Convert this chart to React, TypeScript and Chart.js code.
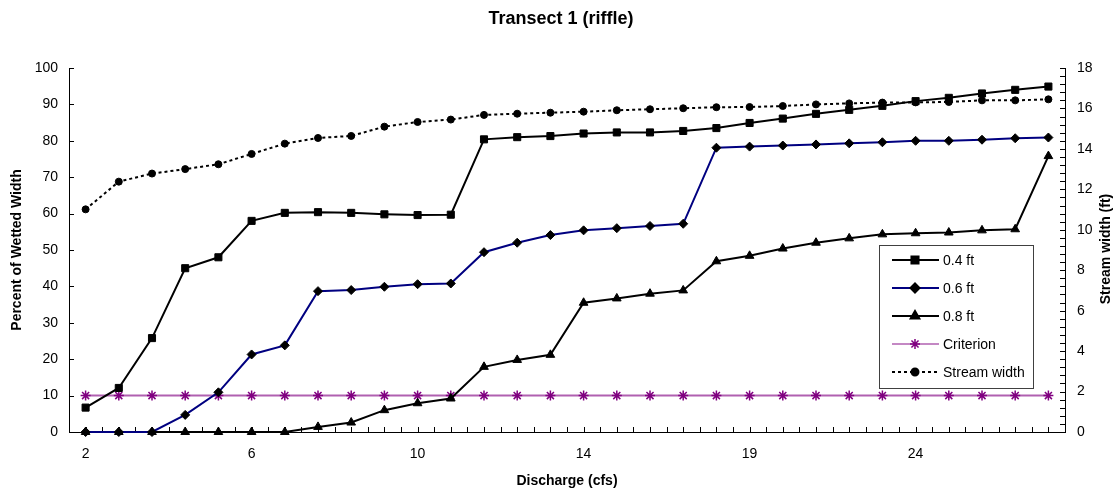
import React, { useEffect, useRef } from "react";
import { Chart, registerables } from "chart.js";
import { drawPoint } from "chart.js/helpers";

Chart.register(...registerables);

const FONT = 'Arial, "Liberation Sans", sans-serif';

const categories = ["2", "2.8", "3.6", "4.4", "5.2", "6", "6.8", "7.6", "8.4", "9.2", "10", "10.8", "11.6", "12.4", "13.2", "14", "15", "16", "17", "18", "19", "20", "21", "22", "23", "24", "25", "26", "27", "28"];

const pct04 = [6.7, 12.1, 25.8, 45, 48, 58, 60.2, 60.4, 60.2, 59.8, 59.6, 59.7, 80.4, 81, 81.3, 82, 82.3, 82.3, 82.7, 83.5, 84.9, 86.1, 87.4, 88.5, 89.6, 90.9, 91.8, 93, 94, 94.9];
const pct06 = [0, 0, 0, 4.7, 10.9, 21.3, 23.8, 38.7, 39, 39.9, 40.6, 40.8, 49.4, 52, 54.1, 55.4, 56, 56.6, 57.2, 78.1, 78.4, 78.7, 79, 79.3, 79.6, 80, 80, 80.3, 80.7, 80.9];
const pct08 = [0, 0, 0, 0, 0, 0, 0, 1.4, 2.6, 6, 7.9, 9.2, 17.9, 19.8, 21.2, 35.5, 36.7, 38, 38.9, 46.9, 48.4, 50.4, 52, 53.2, 54.3, 54.6, 54.8, 55.4, 55.7, 75.8];
const criterion = [10, 10, 10, 10, 10, 10, 10, 10, 10, 10, 10, 10, 10, 10, 10, 10, 10, 10, 10, 10, 10, 10, 10, 10, 10, 10, 10, 10, 10, 10];
const streamWidth = [11.01, 12.38, 12.78, 13.0, 13.24, 13.75, 14.26, 14.54, 14.64, 15.1, 15.33, 15.45, 15.68, 15.74, 15.79, 15.84, 15.91, 15.96, 16.01, 16.06, 16.07, 16.12, 16.2, 16.25, 16.29, 16.3, 16.32, 16.4, 16.4, 16.45];

const leftTicks = [0, 10, 20, 30, 40, 50, 60, 70, 80, 90, 100];
const seriesNames = ["0.4 ft", "0.6 ft", "0.8 ft", "Criterion", "Stream width"];

const decor = {
  id: "decor",
  beforeDatasetsDraw(chart: any) {
    const ctx = chart.ctx;
    const { left, right, bottom } = chart.chartArea;
    const xs = chart.scales.x;
    const ys = chart.scales.y;
    const y2 = chart.scales.y2;
    ctx.save();
    ctx.strokeStyle = "#000";
    ctx.lineWidth = 1;
    ctx.beginPath();
    const n = categories.length;
    const w = (xs.right - xs.left) / n;
    for (let j = 0; j <= 2 * n; j++) {
      const x = Math.round(xs.left + (j * w) / 2) + 0.5;
      ctx.moveTo(x, bottom);
      ctx.lineTo(x, bottom - 5);
    }
    leftTicks.forEach((v) => {
      const y = Math.round(ys.getPixelForValue(v)) + 0.5;
      ctx.moveTo(left, y);
      ctx.lineTo(left + 5, y);
    });
    for (let k = 0; k <= 45; k++) {
      const y = Math.round(y2.getPixelForValue(k * 0.4)) + 0.5;
      ctx.moveTo(right - 5, y);
      ctx.lineTo(right, y);
    }
    ctx.stroke();
    ctx.restore();
  },
  afterDraw(chart: any) {
    const ctx = chart.ctx;
    ctx.save();
    ctx.fillStyle = "#000";
    ctx.textAlign = "center";
    ctx.textBaseline = "middle";
    ctx.font = `bold 18px ${FONT}`;
    ctx.fillText("Transect 1 (riffle)", 561, 19);
    ctx.font = `bold 14px ${FONT}`;
    ctx.fillText("Discharge (cfs)", 567, 481);
    ctx.save();
    ctx.translate(17, 250);
    ctx.rotate(-Math.PI / 2);
    ctx.fillText("Percent of Wetted Width", 0, 0);
    ctx.restore();
    ctx.save();
    ctx.translate(1106, 249);
    ctx.rotate(-Math.PI / 2);
    ctx.fillText("Stream width (ft)", 0, 0);
    ctx.restore();

    // legend
    const bx = 879, by = 245, bw = 154, bh = 143;
    ctx.fillStyle = "#fff";
    ctx.fillRect(bx, by, bw, bh);
    ctx.strokeStyle = "#404040";
    ctx.lineWidth = 1;
    ctx.strokeRect(bx + 0.5, by + 0.5, bw, bh);
    const rows = [260, 288, 316, 344, 372];
    chart.data.datasets.forEach((ds: any, i: number) => {
      const y = rows[i];
      ctx.save();
      ctx.strokeStyle = ds.borderColor;
      ctx.lineWidth = i === 3 ? 1.5 : ds.borderWidth;
      ctx.setLineDash(ds.borderDash || []);
      ctx.beginPath();
      ctx.moveTo(892, y);
      ctx.lineTo(939, y);
      ctx.stroke();
      ctx.setLineDash([]);
      ctx.fillStyle = ds.pointBackgroundColor;
      ctx.strokeStyle = ds.pointBorderColor;
      drawPoint(ctx, { pointStyle: ds.pointStyle, radius: ds.pointRadius, rotation: 0, borderWidth: ds.pointBorderWidth }, 915, y);
      ctx.restore();
      ctx.fillStyle = "#000";
      ctx.textAlign = "left";
      ctx.textBaseline = "middle";
      ctx.font = `14px ${FONT}`;
      ctx.fillText(seriesNames[i], 943, y + 1);
    });
    ctx.restore();
  },
};

export default function App() {
  const ref = useRef<HTMLCanvasElement>(null);
  useEffect(() => {
    document.body.style.margin = "0";
    const tickFont = { family: FONT, size: 14 };
    const chart = new Chart(ref.current as HTMLCanvasElement, {
      type: "line",
      data: {
        labels: categories,
        datasets: [
          {
            label: seriesNames[0],
            data: pct04,
            yAxisID: "y",
            borderColor: "#000",
            borderWidth: 2,
            pointStyle: "rect",
            pointRadius: 5,
            pointBackgroundColor: "#000",
            pointBorderColor: "#000",
            pointBorderWidth: 1,
            clip: false,
          },
          {
            label: seriesNames[1],
            data: pct06,
            yAxisID: "y",
            borderColor: "#000080",
            borderWidth: 2,
            pointStyle: "rectRot",
            pointRadius: 4.5,
            pointBackgroundColor: "#000",
            pointBorderColor: "#000",
            pointBorderWidth: 1,
            clip: false,
          },
          {
            label: seriesNames[2],
            data: pct08,
            yAxisID: "y",
            borderColor: "#000",
            borderWidth: 2,
            pointStyle: "triangle",
            pointRadius: 5,
            pointBackgroundColor: "#000",
            pointBorderColor: "#000",
            pointBorderWidth: 1,
            clip: false,
          },
          {
            label: seriesNames[3],
            data: criterion,
            yAxisID: "y",
            borderColor: "#b060b0",
            borderWidth: 2,
            pointStyle: "star",
            pointRadius: 5,
            pointBackgroundColor: "#800080",
            pointBorderColor: "#800080",
            pointBorderWidth: 1.5,
            clip: false,
          },
          {
            label: seriesNames[4],
            data: streamWidth,
            yAxisID: "y2",
            borderColor: "#000",
            borderWidth: 2,
            borderDash: [3, 3],
            pointStyle: "circle",
            pointRadius: 3.5,
            pointBackgroundColor: "#000",
            pointBorderColor: "#000",
            pointBorderWidth: 1,
            clip: false,
          },
        ],
      },
      options: {
        responsive: false,
        animation: false,
        layout: { padding: { top: 68, left: 0, right: 0, bottom: 0 } },
        plugins: {
          legend: { display: false },
          title: { display: false },
          tooltip: { enabled: false },
        },
        elements: { line: { tension: 0 } },
        scales: {
          x: {
            type: "category",
            offset: true,
            grid: { display: false, drawTicks: false },
            border: { display: true, color: "#000", width: 1 },
            ticks: {
              autoSkip: false,
              maxRotation: 0,
              minRotation: 0,
              padding: 14,
              color: "#000",
              font: tickFont,
              callback: (_v: any, i: number) => (i % 5 === 0 ? categories[i] : ""),
            },
            afterFit: (s: any) => {
              s.height = 61;
            },
          },
          y: {
            position: "left",
            min: 0,
            max: 100,
            grid: { display: false, drawTicks: false },
            border: { display: true, color: "#000", width: 1 },
            ticks: { stepSize: 10, padding: 11, color: "#000", font: tickFont },
            afterFit: (s: any) => {
              s.width = 69;
            },
          },
          y2: {
            position: "right",
            min: 0,
            max: 18,
            grid: { display: false, drawTicks: false },
            border: { display: true, color: "#000", width: 1 },
            ticks: { stepSize: 2, padding: 12, color: "#000", font: tickFont },
            afterFit: (s: any) => {
              s.width = 55;
            },
          },
        },
      } as any,
      plugins: [decor],
    });
    return () => chart.destroy();
  }, []);
  return (
    <div style={{ width: 1120, height: 493 }}>
      <canvas ref={ref} width={1120} height={493} style={{ display: "block" }} />
    </div>
  );
}
